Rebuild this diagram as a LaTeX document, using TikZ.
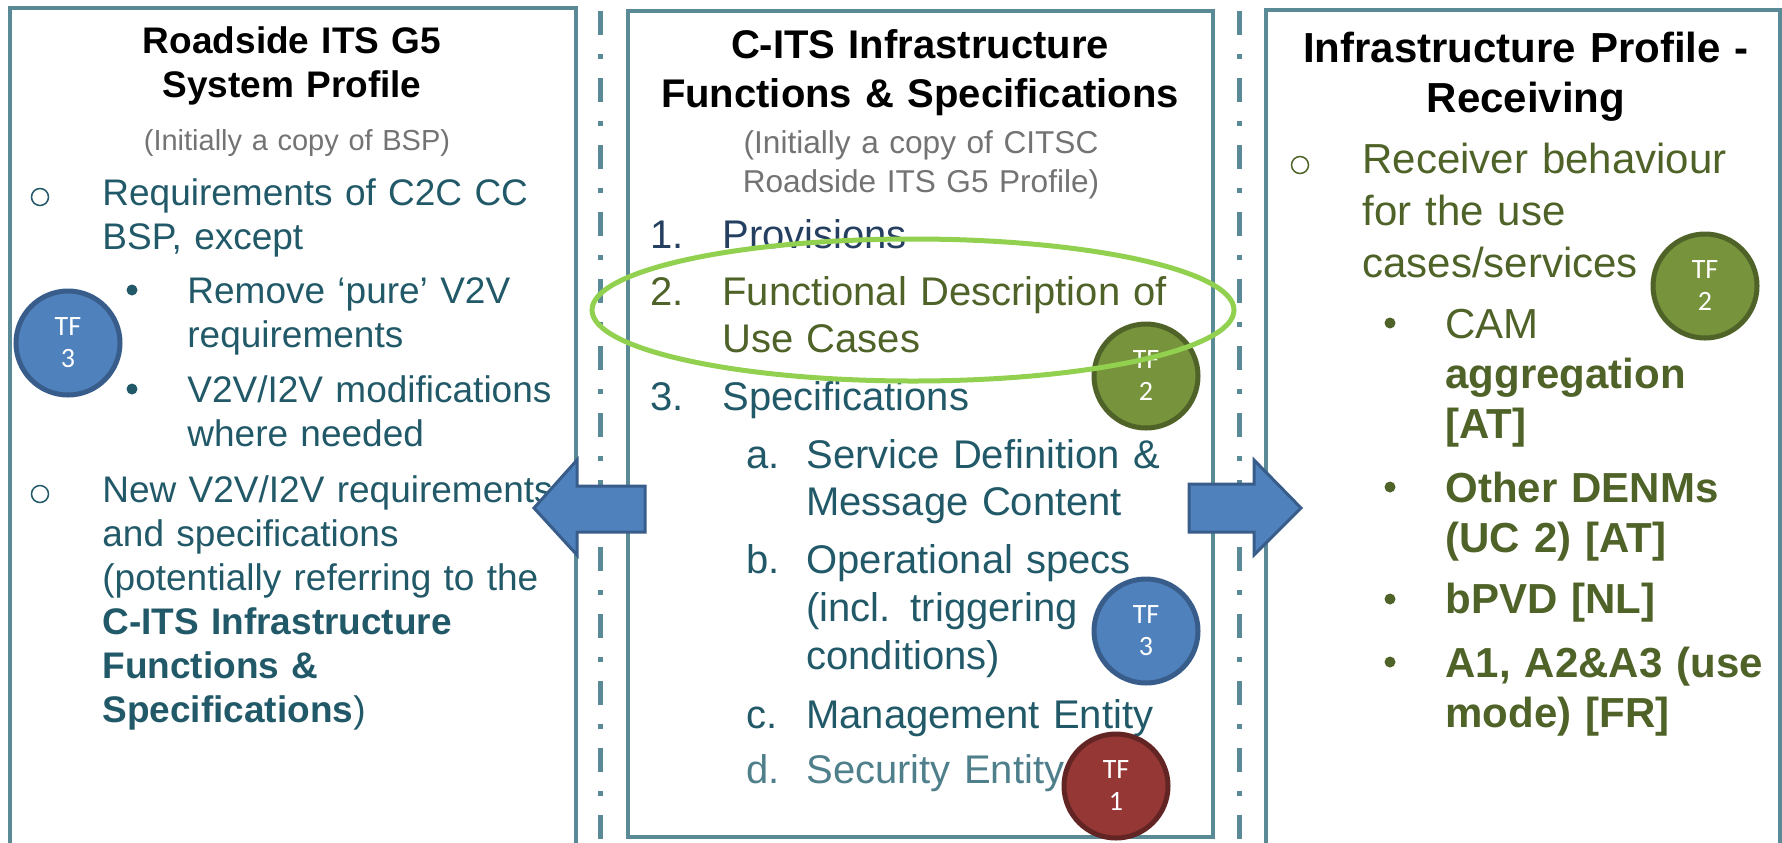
\documentclass[tikz,border=0pt]{standalone}
\usepackage{fontspec}
\usetikzlibrary{shapes.geometric}
\setmainfont{Liberation Sans}
\newfontfamily\tffont{Carlito}

\definecolor{boxline}{HTML}{5B8A97}
\definecolor{tealtext}{HTML}{215968}
\definecolor{navytext}{HTML}{243F60}
\definecolor{olivetext}{HTML}{4F6228}
\definecolor{greytext}{HTML}{737373}
\definecolor{palteal}{HTML}{4E7F8A}
\definecolor{tfblue}{HTML}{4F81BD}
\definecolor{tfblueedge}{HTML}{385D8A}
\definecolor{tfolive}{HTML}{77933C}
\definecolor{tfred}{HTML}{953735}
\definecolor{tfrededge}{HTML}{632523}
\definecolor{ringgreen}{HTML}{92D050}

\tikzset{
  para/.style={anchor=base west, inner sep=0pt, align=left, text width=300pt},
  head/.style={anchor=base, inner sep=0pt, align=center, text width=300pt, text=black},
  num/.style={anchor=base west, inner sep=0pt},
  tf/.style={circle, draw, line width=2.5pt, minimum size=52pt, inner sep=0pt,
    text=white, align=center, font=\tffont\fontsize{14}{16}\selectfont},
  hollow/.style={circle, draw, line width=0.75pt, minimum size=8.5pt, inner sep=0pt},
  dot/.style={circle, fill, minimum size=5.5pt, inner sep=0pt},
  framebox/.style={draw=boxline, line width=2.25pt},
  sepline/.style={draw=boxline, line width=2.5pt,
    dash pattern=on 12pt off 9.5pt on 2.5pt off 9.5pt},
  blockarrow/.style={fill=tfblue, draw=tfblueedge, line width=1.5pt}
}

\begin{document}
\begin{tikzpicture}[x=0.5pt, y=-0.5pt]
  \useasboundingbox (0,0) rectangle (1782,842);
  % frames and separators
  \draw[framebox] (10,900) -- (10,8) -- (576,8) -- (576,900);
  \draw[framebox] (628,11) rectangle (1213,837);
  \draw[framebox] (1266,900) -- (1266,10) -- (1780,10) -- (1780,900);
  \draw[sepline] (600,-56) -- (600,860);
  \draw[sepline] (1239,-56) -- (1239,860);

  % left column
  \node[head, font=\bfseries\fontsize{18.5}{22}\selectfont] (lhead) at (292,53)
    {Roadside ITS G5\\System Profile};
  \node[head, text=greytext, font=\fontsize{14.5}{18}\selectfont] (lsub) at (297,150)
    {(Initially a copy of BSP)};
  \begin{scope}[color=tealtext, font=\fontsize{18.5}{22.25}\selectfont]
    \node[hollow] (lo1) at (40,197) {};
    \node[para] (lreq) at (102,205) {Requirements of C2C CC\\BSP, except};
    \node[dot] (lb1) at (132,290) {};
    \node[para] (lrem) at (187,303) {Remove ‘pure’ V2V\\requirements};
    \node[dot] (lb2) at (132,389) {};
    \node[para] (lmod) at (187,402) {V2V/I2V modifications\\where needed};
    \node[hollow] (lo2) at (40,494) {};
    \node[para, font=\fontsize{18.5}{22}\selectfont] (lnew) at (102,502)
      {New V2V/I2V requirements\\and specifications\\(potentially referring to the\\
       \textbf{C-ITS Infrastructure}\\\textbf{Functions \&}\\\textbf{Specifications})};
  \end{scope}
  \node[tf, fill=tfblue, draw=tfblueedge] (ltf) at (68,343) {TF\\3};

  % middle column
  \node[head, font=\bfseries\fontsize{20}{24.5}\selectfont] (mhead) at (920,58)
    {C-ITS Infrastructure\\Functions \& Specifications};
  \node[head, text=greytext, font=\fontsize{15.8}{19.5}\selectfont] (msub) at (921,153)
    {(Initially a copy of CITSC\\Roadside ITS G5 Profile)};
  \begin{scope}[font=\fontsize{20}{23.5}\selectfont]
    \node[num, text=navytext] (n1) at (650,248) {1.};
    \node[para, text=navytext] (prov) at (722,248) {Provisions};
    \node[num, text=olivetext] (n2) at (650,305) {2.};
    \node[para, text=olivetext] (func) at (722,305) {Functional Description of\\Use Cases};
    \node[num, text=tealtext] (n3) at (650,410) {3.};
    \node[para, text=tealtext] (spec) at (722,410) {Specifications};
    \node[num, text=tealtext] (na) at (746,468) {a.};
    \node[para, text=tealtext] (serv) at (806,468) {Service Definition \&\\Message Content};
    \node[num, text=tealtext] (nb) at (746,573) {b.};
    \node[para, text=tealtext, font=\fontsize{20}{24}\selectfont] (oper) at (806,573)
      {Operational specs\\(incl. triggering\\conditions)};
    \node[num, text=tealtext] (nc) at (746,728) {c.};
    \node[para, text=tealtext] (mgmt) at (806,728) {Management Entity};
    \node[num, text=palteal] (nd) at (746,783) {d.};
    \node[para, text=palteal] (secu) at (806,783) {Security Entity};
  \end{scope}
  \node[tf, fill=tfolive, draw=olivetext] (mtf2) at (1146,376) {TF\\2};
  \node[tf, fill=tfblue, draw=tfblueedge] (mtf3) at (1146,631) {TF\\3};
  \node[tf, fill=tfred, draw=tfrededge] (mtf1) at (1116,786) {TF\\1};

  % right column
  \node[head, font=\bfseries\fontsize{21}{25}\selectfont] (rhead) at (1526,62)
    {Infrastructure Profile -\\Receiving};
  \begin{scope}[color=olivetext, font=\fontsize{21}{25}\selectfont]
    \node[hollow] (ro1) at (1300,165) {};
    \node[para, font=\fontsize{21}{26}\selectfont] (recv) at (1362,173)
      {Receiver behaviour\\for the use\\cases/services};
    \node[dot] (rb1) at (1390,323) {};
    \node[para] (cam) at (1445,338) {CAM\\\textbf{aggregation}\\\textbf{[AT]}};
    \node[dot] (rb2) at (1390,487) {};
    \node[para] (denm) at (1445,502) {\textbf{Other DENMs}\\\textbf{(UC 2) [AT]}};
    \node[dot] (rb3) at (1390,599) {};
    \node[para] (bpvd) at (1445,613) {\textbf{bPVD [NL]}};
    \node[dot] (rb4) at (1390,662) {};
    \node[para] (anum) at (1445,677) {\textbf{A1, A2\&A3 (use}\\\textbf{mode) [FR]}};
  \end{scope}
  \node[tf, fill=tfolive, draw=olivetext] (rtf2) at (1705,286) {TF\\2};

  % block arrows
  \draw[blockarrow] (534,508) -- (577,460) -- (577,486) -- (645,486) -- (645,532)
    -- (577,532) -- (577,555) -- cycle;
  \draw[blockarrow] (1301,508) -- (1254,460) -- (1254,484) -- (1189,484) -- (1189,532)
    -- (1254,532) -- (1254,555) -- cycle;

  % highlight ring
  \node[ellipse, draw=ringgreen, line width=2.5pt, minimum width=321pt, minimum height=71pt,
    inner sep=0pt] (ring) at (913,310) {};
\end{tikzpicture}
\end{document}
